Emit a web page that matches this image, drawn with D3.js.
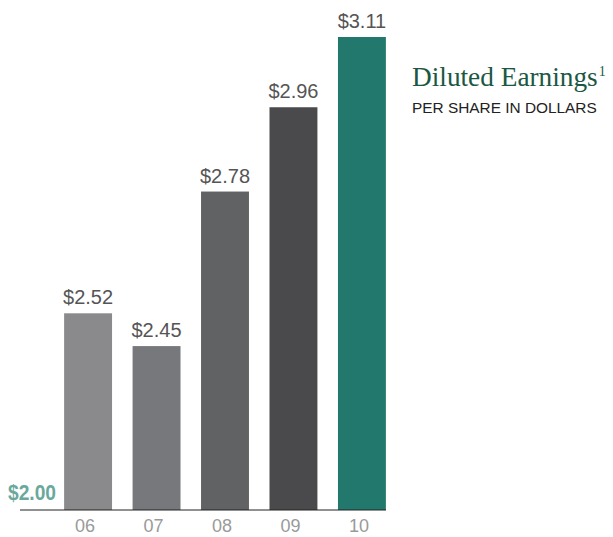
<!DOCTYPE html>
<html><head><meta charset="utf-8">
<script src="https://cdn.jsdelivr.net/npm/d3@7"></script>
<style>body{margin:0;background:#fff}svg{display:block}</style>
</head><body>
<script>
const categories = ["06","07","08","09","10"];
const values = [2.52, 2.45, 2.78, 2.96, 3.11];
const valueLabels = ["$2.52","$2.45","$2.78","$2.96","$3.11"];
const barColors = ["#8a8a8c","#77787b","#616264","#4a4a4c","#22786d"];
const baseLabel = "$2.00";
const title = "Diluted Earnings";
const subtitle = "PER SHARE IN DOLLARS";

const W = 613, H = 537;
const svg = d3.select("body").append("svg").attr("width", W).attr("height", H);

const x = d3.scaleBand().domain(categories).range([47, 403]).paddingInner(0.3).paddingOuter(0.25);
const y = d3.scaleLinear().domain([2.10, 3.11]).range([510, 37]);

svg.selectAll("rect.bar").data(values).join("rect")
  .attr("class","bar")
  .attr("x",(d,i)=>x(categories[i]))
  .attr("width",x.bandwidth())
  .attr("y",d=>y(d))
  .attr("height",d=>y.range()[0]-y(d))
  .attr("fill",(d,i)=>barColors[i]);

svg.selectAll("text.vl").data(values).join("text")
  .attr("class","vl")
  .attr("x",(d,i)=>x(categories[i])+x.bandwidth()/2)
  .attr("y",d=>y(d)-9)
  .attr("text-anchor","middle")
  .attr("font-family","'Liberation Sans', Arial, sans-serif")
  .attr("font-size",20)
  .attr("fill","#555")
  .text((d,i)=>valueLabels[i]);

// axis
const axis = d3.axisBottom(x).tickSize(0).tickPadding(0);
const g = svg.append("g").attr("transform","translate(0,510)").call(axis);
g.select(".domain").remove();
g.append("line").attr("x1",20).attr("x2",386).attr("y1",0).attr("y2",0).attr("stroke","#222").attr("stroke-width",1.2);
g.selectAll(".tick text")
  .attr("font-family","'Liberation Sans', Arial, sans-serif")
  .attr("font-size",18)
  .attr("fill","#9a9a9a")
  .attr("x",-3)
  .attr("y",22)
  .attr("dy",null);

svg.append("text").attr("x",8).attr("y",500)
  .attr("font-family","'Liberation Sans Narrow','Arial Narrow',sans-serif")
  .attr("font-weight","bold").attr("font-size",22)
  .attr("textLength",48).attr("lengthAdjust","spacingAndGlyphs")
  .attr("fill","#6aa89c").text(baseLabel);

const t = svg.append("text").attr("x",412).attr("y",86)
  .attr("font-family","'Liberation Serif','Times New Roman',serif")
  .attr("font-size",27.3).attr("fill","#1b5844").text(title);
t.append("tspan").attr("font-size",14).attr("dy",-10).attr("dx",1).text("1");

svg.append("text").attr("x",412).attr("y",113)
  .attr("font-family","'Liberation Sans', Arial, sans-serif")
  .attr("font-size",15.4).attr("fill","#222").text(subtitle);
</script>
</body></html>
